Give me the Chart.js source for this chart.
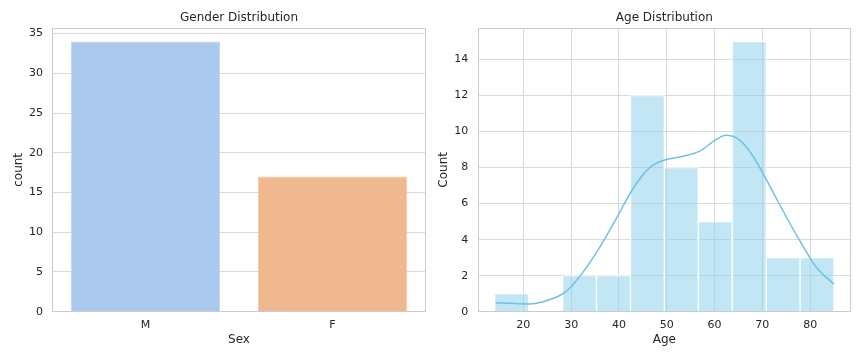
<!DOCTYPE html>
<html>
<head>
<meta charset="utf-8">
<script src="https://cdn.jsdelivr.net/npm/chart.js@4/dist/chart.umd.min.js"></script>
<style>
  html, body { margin: 0; padding: 0; background: #fff; }
  .wrap { position: absolute; top: 0; width: 432px; height: 360px; }
</style>
</head>
<body>
<div class="wrap" style="left:0"><canvas id="sexChart" width="432" height="360"></canvas></div>
<div class="wrap" style="left:432px"><canvas id="ageChart" width="432" height="360"></canvas></div>
<script>
// Gender counts
const sexLabels = ["M", "F"];
const sexCounts = [34, 17];
const sexTicks = [0, 5, 10, 15, 20, 25, 30, 35];

// Age histogram (10 bins from 14 to 85)
const ageBinCenters = [17.55, 24.65, 31.75, 38.85, 45.95, 53.05, 60.15, 67.25, 74.35, 81.45];
const ageCounts = [1, 0, 2, 2, 12, 8, 5, 15, 3, 3];
const ageTicksX = [20, 30, 40, 50, 60, 70, 80];
const ageTicksY = [0, 2, 4, 6, 8, 10, 12, 14];

// KDE curve
const kdeX = [14.2, 17, 21.2, 25, 28.9, 32.3, 35.8, 39.3, 42.8, 46.3, 49.8, 53.3, 56.8, 60.3, 62.4, 65.1, 67.9, 70.7, 74.2, 77.7, 81.2, 85.0];
const kdeY = [0.5, 0.47, 0.43, 0.62, 1.11, 2.13, 3.5, 5.1, 6.77, 7.97, 8.44, 8.62, 8.9, 9.55, 9.79, 9.55, 8.7, 7.4, 5.66, 4.0, 2.5, 1.52];

Chart.defaults.font.family = "DejaVu Sans";
Chart.defaults.color = "#262626";
Chart.defaults.animation = false;

const gridColor = "#dadada";

// box round the plot area, like the matplotlib spines
const framePlugin = {
  id: "frame",
  afterDatasetsDraw(chart) {
    const { ctx, chartArea: a } = chart;
    ctx.save();
    ctx.strokeStyle = "#cccccc";
    ctx.lineWidth = 1;
    ctx.strokeRect(Math.round(a.left) + 0.5, Math.round(a.top) + 0.5,
      Math.round(a.right - a.left) - 1, Math.round(a.bottom - a.top) - 1);
    ctx.restore();
  }
};

function fixTicks(list) {
  return scale => { scale.ticks = list.map(v => ({ value: v })); };
}

/* LEFT: gender */
new Chart(document.getElementById("sexChart"), {
  type: "bar",
  data: {
    labels: sexLabels,
    datasets: [{
      data: sexCounts,
      backgroundColor: ["#abc9ed", "#f0b890"],
      borderColor: ["#b9d3f1", "#f5c5a3"],
      borderWidth: 1,
      categoryPercentage: 0.8,
      barPercentage: 1.0
    }]
  },
  options: {
    responsive: false,
    layout: { padding: { left: 0, right: 6, top: 0, bottom: 0 } },
    plugins: {
      legend: { display: false },
      tooltip: { enabled: false },
      title: {
        display: true,
        text: "Gender Distribution",
        fullSize: false,
        font: { size: 12, weight: "normal" },
        padding: { top: 11, bottom: 2.6 }
      }
    },
    scales: {
      x: {
        offset: true,
        grid: { display: false, drawTicks: false },
        border: { display: false },
        ticks: { font: { size: 11 }, padding: 7 },
        title: { display: true, text: "Sex", font: { size: 12 }, padding: { top: 0, bottom: 12.8 } },
        afterFit: s => { s.height = 48.3; }
      },
      y: {
        min: 0,
        max: 35.7,
        afterBuildTicks: fixTicks(sexTicks),
        grid: { color: gridColor, drawTicks: false },
        border: { display: false },
        ticks: { font: { size: 11 }, padding: 9 },
        title: { display: true, text: "count", font: { size: 12 }, padding: { top: 11.8, bottom: 0 } },
        afterFit: s => { s.width = 52; }
      }
    }
  },
  plugins: [framePlugin]
});

/* RIGHT: age histogram + kde */
new Chart(document.getElementById("ageChart"), {
  type: "bar",
  data: {
    datasets: [
      {
        type: "line",
        data: kdeX.map((x, i) => ({ x, y: kdeY[i] })),
        borderColor: "#6fc2e6",
        borderWidth: 1.5,
        pointRadius: 0,
        cubicInterpolationMode: "monotone",
        order: 0
      },
      {
        type: "bar",
        data: ageBinCenters.map((x, i) => ({ x, y: ageCounts[i] })),
        backgroundColor: "rgba(135, 206, 235, 0.5)",
        borderColor: "#ffffff",
        borderWidth: 1,
        categoryPercentage: 1.0,
        barPercentage: 1.0,
        grouped: false,
        order: 1
      }
    ]
  },
  options: {
    responsive: false,
    layout: { padding: { left: 0, right: 13, top: 0, bottom: 0 } },
    plugins: {
      legend: { display: false },
      tooltip: { enabled: false },
      title: {
        display: true,
        text: "Age Distribution",
        fullSize: false,
        font: { size: 12, weight: "normal" },
        padding: { top: 11, bottom: 2.6 }
      }
    },
    scales: {
      x: {
        type: "linear",
        offset: false,
        min: 10.45,
        max: 88.55,
        afterBuildTicks: fixTicks(ageTicksX),
        grid: { color: gridColor, drawTicks: false, offset: false },
        border: { display: false },
        ticks: { font: { size: 11 }, padding: 7 },
        title: { display: true, text: "Age", font: { size: 12 }, padding: { top: 0, bottom: 12.8 } },
        afterFit: s => { s.height = 48.3; }
      },
      y: {
        min: 0,
        max: 15.75,
        afterBuildTicks: fixTicks(ageTicksY),
        grid: { color: gridColor, drawTicks: false },
        border: { display: false },
        ticks: { font: { size: 11 }, padding: 9.5 },
        title: { display: true, text: "Count", font: { size: 12 }, padding: { top: 4.5, bottom: 0 } },
        afterFit: s => { s.width = 45.7; }
      }
    }
  },
  plugins: [framePlugin]
});
</script>
</body>
</html>
